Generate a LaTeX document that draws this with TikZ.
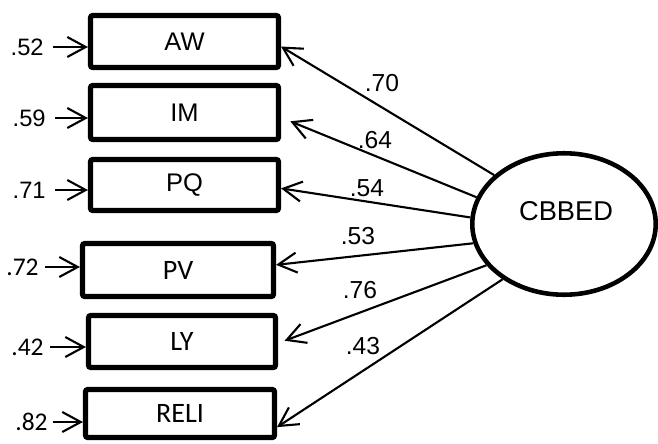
\documentclass[tikz,border=0pt]{standalone}
\usepackage{fontspec}
\setmainfont{Liberation Sans}
\newfontfamily\calibri{Carlito}
\usetikzlibrary{shapes.geometric, arrows.meta}

\begin{document}
\begin{tikzpicture}[x=0.02cm, y=-0.02cm,
      obs/.style={rectangle, draw, line width=2.9pt, rounded corners=1.2pt, inner sep=0pt,
                  minimum width=3.76cm, minimum height=1.04cm, font=\fontsize{14.5}{17}\selectfont},
      lat/.style={ellipse, draw, line width=2.6pt, minimum width=3.67cm, minimum height=2.83cm},
      num/.style={font=\fontsize{14}{16}\selectfont, inner sep=1pt},
      enum/.style={font=\fontsize{13.5}{16}\selectfont, inner xsep=0.18cm, inner ysep=0pt, anchor=east},
      arr/.style={-{Straight Barb[length=0.37cm, width=0.4cm]}, line width=1.2pt}]
    \useasboundingbox (0,0) rectangle (658,443);
    % indicators
    \node[obs] (aw) at (184.5,41.5) {AW};
    \node[obs, minimum height=1.08cm] (im) at (184.5,112.5) {IM};
    \node[obs, minimum height=1.02cm] (pq) at (184.5,185) {PQ};
    \node[obs, minimum width=3.82cm, minimum height=1.06cm, font=\fontsize{16}{19}\calibri] (pv) at (178,270) {PV};
    \node[obs, minimum width=3.74cm, font=\fontsize{16}{19}\calibri] (ly) at (182,341.5) {LY};
    \node[obs, minimum width=3.78cm, minimum height=0.96cm, font=\fontsize{16}{19}\calibri] (reli) at (180,413.5) {RELI};
    % latent factor
    \node[lat] (cb) at (564,224) {};
    \node[font=\fontsize{15.5}{18}\selectfont] (cbtxt) at (566,211) {CBBED};
    % error terms
    \node[enum] (e1) at (53,47) {.52};
    \node[enum] (e2) at (55,118) {.59};
    \node[enum] (e3) at (55,190) {.71};
    \node[enum, inner xsep=0.12cm, font=\fontsize{14.5}{17}\calibri] (e4) at (45,267) {.72};
    \node[enum, inner xsep=0.12cm, font=\fontsize{14.5}{17}\calibri] (e5) at (50,347) {.42};
    \node[enum, inner xsep=0.1cm, font=\fontsize{14.5}{17}\calibri] (e6) at (53,422) {.82};
    \draw[arr] (e1.east) -- (e1.east -| aw.west);
    \draw[arr] (e2.east) -- (e2.east -| im.west);
    \draw[arr] (e3.east) -- (e3.east -| pq.west);
    \draw[arr] (e4.east) -- (e4.east -| pv.west);
    \draw[arr] (e5.east) -- (e5.east -| ly.west);
    \draw[arr] (e6.east) -- (e6.east -| reli.west);
    % loadings
    \draw[arr] (cb.145.8) -- (aw.-3);
    \draw[arr, shorten >=0.2cm] (cb.163.9) -- (im.-3);
    \draw[arr] (cb.176.3) -- (pq.-2);
    \draw[arr] (cb.192.4) -- (pv.3);
    \draw[arr, shorten >=0.14cm] (cb.208.6) -- (ly.-1.5);
    \draw[arr] (cb.222.6) -- (reli.-8);
    \node[num] (l1) at (382,83) {.70};
    \node[num] (l2) at (375,140) {.64};
    \node[num] (l3) at (367,188) {.54};
    \node[num] (l4) at (358,236) {.53};
    \node[num] (l5) at (360,290) {.76};
    \node[num] (l6) at (363,346) {.43};
  \end{tikzpicture}
\end{document}
